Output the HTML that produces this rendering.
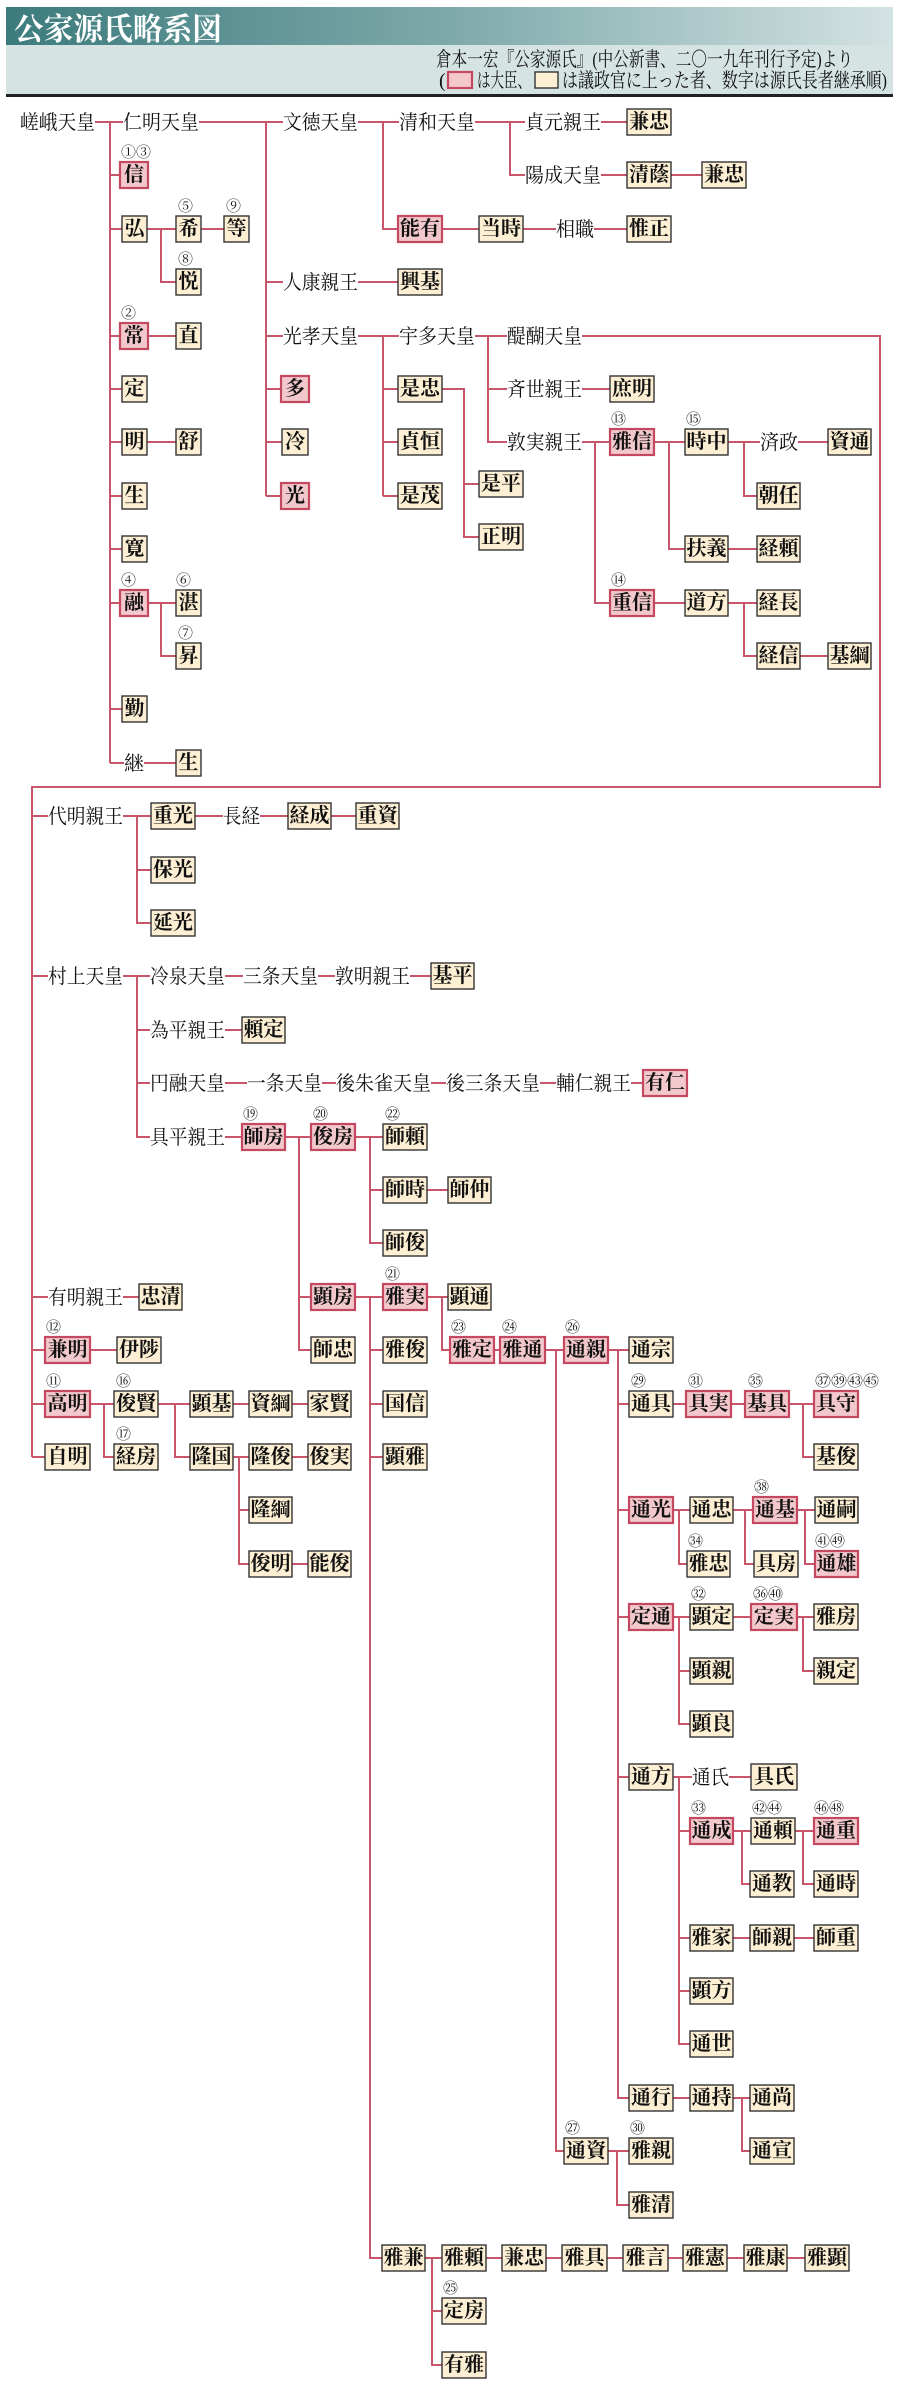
<!DOCTYPE html>
<html><head><meta charset="utf-8"><style>
html,body{margin:0;padding:0;background:#fff;}
svg{display:block;}
.t{font-family:"Liberation Serif","Noto Serif CJK SC",serif;font-size:20px;fill:#111;}
.bt{font-family:"Liberation Serif","Noto Serif CJK SC",serif;font-size:20px;font-weight:bold;fill:#111;text-anchor:middle;dominant-baseline:central;}
.n{font-family:"Liberation Serif","Noto Serif CJK SC",serif;font-size:15px;fill:#111;dominant-baseline:central;}
.b{fill:#fcefd3;stroke:#333;stroke-width:1.4;}
.p{fill:#f2c8cc;stroke:#c4485f;stroke-width:2.2;}
</style></head><body>
<svg width="900" height="2385" viewBox="0 0 900 2385" xmlns="http://www.w3.org/2000/svg">
<defs><linearGradient id="g" x1="0" x2="1" y1="0" y2="0"><stop offset="0" stop-color="#3c7b7d"/><stop offset="0.5" stop-color="#7ea9aa"/><stop offset="1" stop-color="#d3e2e2"/></linearGradient></defs>
<rect x="6" y="7" width="887" height="88" fill="#d6e3e3"/>
<rect x="6" y="7" width="887" height="38" fill="url(#g)"/>
<rect x="6" y="94" width="887" height="3" fill="#222"/>
<text x="14" y="40" font-family="Liberation Serif,Noto Serif CJK SC,serif" font-size="31" font-weight="bold" fill="#fff" textLength="208" lengthAdjust="spacingAndGlyphs">公家源氏略系図</text>
<text x="436" y="66" class="t" font-size="17" textLength="417" lengthAdjust="spacingAndGlyphs">倉本一宏『公家源氏』(中公新書、二〇一九年刊行予定)より</text>
<text x="439" y="87" class="t" font-size="17">(</text>
<rect x="448" y="72" width="24" height="16" class="p"/>
<text x="477" y="87" class="t" font-size="17" textLength="54" lengthAdjust="spacingAndGlyphs">は大臣、</text>
<rect x="535" y="72" width="23" height="16" class="b"/>
<text x="562" y="87" class="t" font-size="17" textLength="325" lengthAdjust="spacingAndGlyphs">は議政官に上った者、数字は源氏長者継承順)</text>

<path fill="none" stroke="#c9556b" stroke-width="2" d="
M95 122H123 M110 122V763 M110 175H120 M110 229H122 M110 336H120 M110 389H122 M110 442H122 M110 496H122 M110 549H122 M110 603H120 M110 709H122 M110 763H124
M147 229H176 M161 229V282H176 M201 229H224 M149 336H176 M147 442H176 M149 603H176 M161 603V656H176 M144 763H176
M199 122H283 M266 122V496 M266 282H283 M266 336H283 M266 389H281 M266 442H282 M266 496H281
M358 122H399 M383 122V229H398 M475 122H525 M510 122V175H525 M601 122H627 M601 175H627 M671 175H702
M442 229H479 M523 229H556 M594 229H627 M358 282H398
M358 336H399 M383 336V496 M383 389H398 M383 442H398 M383 496H398
M442 389H464V537H479 M464 484H479
M475 336H507 M488 336V442H507 M488 389H507
M582 336H880V787H32V1457
M582 389H610 M582 442H610 M595 442V603H610
M654 442H685 M669 442V549H685 M728 442H760 M744 442V496H757 M798 442H828 M728 549H757
M654 603H685 M728 603H757 M744 603V656H757 M800 656H828
M32 816H48 M32 976H48 M32 1297H48 M32 1350H45 M32 1404H45 M32 1457H45
M123 816H151 M137 816V923H151 M137 870H151 M195 816H223 M260 816H288 M331 816H356
M123 976H150 M137 976V1137H150 M137 1030H150 M137 1083H150
M225 976H243 M318 976H335 M410 976H431 M225 1030H242
M225 1083H247 M322 1083H336 M431 1083H446 M540 1083H556 M631 1083H643
M225 1137H242 M285 1137H311 M299 1137V1350H311 M299 1297H311
M355 1137H383 M370 1137V1243H383 M370 1190H383 M427 1190H448
M123 1297H139 M355 1297H383 M370 1297V2258H382 M370 1350H383 M370 1404H383 M370 1457H383
M427 1297H448 M442 1297V1350H450 M494 1350H500 M545 1350H564 M556 1350V2151H564
M608 1350H629 M618 1350V2098H629 M618 1404H629 M618 1510H629 M618 1617H629 M618 1777H629
M90 1350H117 M90 1404H114 M104 1404V1457H114 M158 1404H190 M175 1404V1457H190
M233 1404H249 M292 1404H308 M233 1457H249 M239 1457V1564H249 M239 1510H249 M292 1457H308 M292 1564H308
M673 1404H686 M731 1404H745 M789 1404H814 M803 1404V1457H814
M673 1510H690 M679 1510V1564H687 M733 1510H753 M745 1510V1564H754 M797 1510H815 M805 1510V1564H815
M673 1617H690 M679 1617V1724H690 M679 1671H690 M733 1617H751 M797 1617H814 M803 1617V1671H814
M673 1777H692 M679 1777V2044H690 M679 1831H690 M679 1938H690 M679 1991H690 M729 1777H751
M733 1831H751 M742 1831V1884H750 M795 1831H814 M803 1831V1884H814
M733 1938H750 M794 1938H814
M673 2098H690 M733 2098H750 M742 2098V2151H750
M608 2151H629 M617 2151V2205H629
M425 2258H442 M432 2258V2365H442 M432 2311H442
M486 2258H502 M546 2258H562 M607 2258H623 M668 2258H683 M727 2258H744 M787 2258H805
"/>

<g class="t" >
<text x="20" y="129" textLength="75" lengthAdjust="spacingAndGlyphs">嵯峨天皇</text>
<text x="123" y="129" textLength="76" lengthAdjust="spacingAndGlyphs">仁明天皇</text>
<text x="283" y="129" textLength="75" lengthAdjust="spacingAndGlyphs">文徳天皇</text>
<text x="399" y="129" textLength="76" lengthAdjust="spacingAndGlyphs">清和天皇</text>
<text x="525" y="129" textLength="76" lengthAdjust="spacingAndGlyphs">貞元親王</text>
<text x="525" y="182" textLength="76" lengthAdjust="spacingAndGlyphs">陽成天皇</text>
<text x="556" y="236" textLength="38" lengthAdjust="spacingAndGlyphs">相職</text>
<text x="283" y="289" textLength="75" lengthAdjust="spacingAndGlyphs">人康親王</text>
<text x="283" y="343" textLength="75" lengthAdjust="spacingAndGlyphs">光孝天皇</text>
<text x="399" y="343" textLength="76" lengthAdjust="spacingAndGlyphs">宇多天皇</text>
<text x="507" y="343" textLength="75" lengthAdjust="spacingAndGlyphs">醍醐天皇</text>
<text x="507" y="396" textLength="75" lengthAdjust="spacingAndGlyphs">斉世親王</text>
<text x="507" y="449" textLength="75" lengthAdjust="spacingAndGlyphs">敦実親王</text>
<text x="760" y="449" textLength="38" lengthAdjust="spacingAndGlyphs">済政</text>
<text x="124" y="770" textLength="20" lengthAdjust="spacingAndGlyphs">継</text>
<text x="48" y="823" textLength="75" lengthAdjust="spacingAndGlyphs">代明親王</text>
<text x="223" y="823" textLength="37" lengthAdjust="spacingAndGlyphs">長経</text>
<text x="48" y="983" textLength="75" lengthAdjust="spacingAndGlyphs">村上天皇</text>
<text x="150" y="983" textLength="75" lengthAdjust="spacingAndGlyphs">冷泉天皇</text>
<text x="243" y="983" textLength="75" lengthAdjust="spacingAndGlyphs">三条天皇</text>
<text x="335" y="983" textLength="75" lengthAdjust="spacingAndGlyphs">敦明親王</text>
<text x="150" y="1037" textLength="75" lengthAdjust="spacingAndGlyphs">為平親王</text>
<text x="150" y="1090" textLength="75" lengthAdjust="spacingAndGlyphs">円融天皇</text>
<text x="247" y="1090" textLength="75" lengthAdjust="spacingAndGlyphs">一条天皇</text>
<text x="336" y="1090" textLength="95" lengthAdjust="spacingAndGlyphs">後朱雀天皇</text>
<text x="446" y="1090" textLength="94" lengthAdjust="spacingAndGlyphs">後三条天皇</text>
<text x="556" y="1090" textLength="75" lengthAdjust="spacingAndGlyphs">輔仁親王</text>
<text x="150" y="1144" textLength="75" lengthAdjust="spacingAndGlyphs">具平親王</text>
<text x="48" y="1304" textLength="75" lengthAdjust="spacingAndGlyphs">有明親王</text>
<text x="692" y="1784" textLength="37" lengthAdjust="spacingAndGlyphs">通氏</text>
</g>

<g>
<rect class="b" x="627" y="109" width="44" height="26"/><text class="bt" x="649" y="122">兼忠</text>
<rect class="p" x="120" y="162" width="28" height="26"/><text class="bt" x="134" y="175">信</text>
<rect class="b" x="627" y="162" width="44" height="26"/><text class="bt" x="649" y="175">清蔭</text>
<rect class="b" x="702" y="162" width="44" height="26"/><text class="bt" x="724" y="175">兼忠</text>
<rect class="b" x="122" y="216" width="25" height="26"/><text class="bt" x="134.5" y="229">弘</text>
<rect class="b" x="176" y="216" width="25" height="26"/><text class="bt" x="188.5" y="229">希</text>
<rect class="b" x="224" y="216" width="25" height="26"/><text class="bt" x="236.5" y="229">等</text>
<rect class="p" x="398" y="216" width="44" height="26"/><text class="bt" x="420" y="229">能有</text>
<rect class="b" x="479" y="216" width="44" height="26"/><text class="bt" x="501" y="229">当時</text>
<rect class="b" x="627" y="216" width="44" height="26"/><text class="bt" x="649" y="229">惟正</text>
<rect class="b" x="176" y="269" width="25" height="26"/><text class="bt" x="188.5" y="282">悦</text>
<rect class="b" x="398" y="269" width="44" height="26"/><text class="bt" x="420" y="282">興基</text>
<rect class="p" x="120" y="323" width="28" height="26"/><text class="bt" x="134" y="336">常</text>
<rect class="b" x="176" y="323" width="25" height="26"/><text class="bt" x="188.5" y="336">直</text>
<rect class="b" x="122" y="376" width="25" height="26"/><text class="bt" x="134.5" y="389">定</text>
<rect class="p" x="281" y="376" width="28" height="26"/><text class="bt" x="295" y="389">多</text>
<rect class="b" x="398" y="376" width="44" height="26"/><text class="bt" x="420" y="389">是忠</text>
<rect class="b" x="610" y="376" width="44" height="26"/><text class="bt" x="632" y="389">庶明</text>
<rect class="b" x="122" y="429" width="25" height="26"/><text class="bt" x="134.5" y="442">明</text>
<rect class="b" x="176" y="429" width="25" height="26"/><text class="bt" x="188.5" y="442">舒</text>
<rect class="b" x="282" y="429" width="26" height="26"/><text class="bt" x="295" y="442">冷</text>
<rect class="b" x="398" y="429" width="44" height="26"/><text class="bt" x="420" y="442">貞恒</text>
<rect class="p" x="610" y="429" width="44" height="26"/><text class="bt" x="632" y="442">雅信</text>
<rect class="b" x="685" y="429" width="43" height="26"/><text class="bt" x="706.5" y="442">時中</text>
<rect class="b" x="828" y="429" width="43" height="26"/><text class="bt" x="849.5" y="442">資通</text>
<rect class="b" x="479" y="471" width="44" height="26"/><text class="bt" x="501" y="484">是平</text>
<rect class="b" x="122" y="483" width="25" height="26"/><text class="bt" x="134.5" y="496">生</text>
<rect class="p" x="281" y="483" width="28" height="26"/><text class="bt" x="295" y="496">光</text>
<rect class="b" x="398" y="483" width="44" height="26"/><text class="bt" x="420" y="496">是茂</text>
<rect class="b" x="757" y="483" width="43" height="26"/><text class="bt" x="778.5" y="496">朝任</text>
<rect class="b" x="479" y="524" width="44" height="26"/><text class="bt" x="501" y="537">正明</text>
<rect class="b" x="122" y="536" width="25" height="26"/><text class="bt" x="134.5" y="549">寛</text>
<rect class="b" x="685" y="536" width="43" height="26"/><text class="bt" x="706.5" y="549">扶義</text>
<rect class="b" x="757" y="536" width="43" height="26"/><text class="bt" x="778.5" y="549">経頼</text>
<rect class="p" x="120" y="590" width="28" height="26"/><text class="bt" x="134" y="603">融</text>
<rect class="b" x="176" y="590" width="25" height="26"/><text class="bt" x="188.5" y="603">湛</text>
<rect class="p" x="610" y="590" width="44" height="26"/><text class="bt" x="632" y="603">重信</text>
<rect class="b" x="685" y="590" width="43" height="26"/><text class="bt" x="706.5" y="603">道方</text>
<rect class="b" x="757" y="590" width="43" height="26"/><text class="bt" x="778.5" y="603">経長</text>
<rect class="b" x="176" y="643" width="25" height="26"/><text class="bt" x="188.5" y="656">昇</text>
<rect class="b" x="757" y="643" width="43" height="26"/><text class="bt" x="778.5" y="656">経信</text>
<rect class="b" x="828" y="643" width="43" height="26"/><text class="bt" x="849.5" y="656">基綱</text>
<rect class="b" x="122" y="696" width="25" height="26"/><text class="bt" x="134.5" y="709">勤</text>
<rect class="b" x="176" y="750" width="25" height="26"/><text class="bt" x="188.5" y="763">生</text>

<rect class="b" x="151" y="803" width="44" height="26"/><text class="bt" x="173" y="816">重光</text>
<rect class="b" x="288" y="803" width="43" height="26"/><text class="bt" x="309.5" y="816">経成</text>
<rect class="b" x="356" y="803" width="43" height="26"/><text class="bt" x="377.5" y="816">重資</text>
<rect class="b" x="151" y="857" width="44" height="26"/><text class="bt" x="173" y="870">保光</text>
<rect class="b" x="151" y="910" width="44" height="26"/><text class="bt" x="173" y="923">延光</text>
<rect class="b" x="431" y="963" width="43" height="26"/><text class="bt" x="452.5" y="976">基平</text>
<rect class="b" x="242" y="1017" width="43" height="26"/><text class="bt" x="263.5" y="1030">頼定</text>
<rect class="p" x="643" y="1070" width="44" height="26"/><text class="bt" x="665" y="1083">有仁</text>
<rect class="p" x="242" y="1124" width="43" height="26"/><text class="bt" x="263.5" y="1137">師房</text>
<rect class="p" x="311" y="1124" width="44" height="26"/><text class="bt" x="333" y="1137">俊房</text>
<rect class="b" x="383" y="1124" width="44" height="26"/><text class="bt" x="405" y="1137">師頼</text>
<rect class="b" x="383" y="1177" width="44" height="26"/><text class="bt" x="405" y="1190">師時</text>
<rect class="b" x="448" y="1177" width="43" height="26"/><text class="bt" x="469.5" y="1190">師仲</text>
<rect class="b" x="383" y="1230" width="44" height="26"/><text class="bt" x="405" y="1243">師俊</text>
<rect class="b" x="139" y="1284" width="43" height="26"/><text class="bt" x="160.5" y="1297">忠清</text>
<rect class="p" x="311" y="1284" width="44" height="26"/><text class="bt" x="333" y="1297">顕房</text>
<rect class="p" x="383" y="1284" width="44" height="26"/><text class="bt" x="405" y="1297">雅実</text>
<rect class="b" x="448" y="1284" width="43" height="26"/><text class="bt" x="469.5" y="1297">顕通</text>

<rect class="p" x="45" y="1337" width="45" height="26"/><text class="bt" x="67.5" y="1350">兼明</text>
<rect class="b" x="117" y="1337" width="44" height="26"/><text class="bt" x="139" y="1350">伊陟</text>
<rect class="b" x="311" y="1337" width="44" height="26"/><text class="bt" x="333" y="1350">師忠</text>
<rect class="b" x="383" y="1337" width="44" height="26"/><text class="bt" x="405" y="1350">雅俊</text>
<rect class="p" x="450" y="1337" width="44" height="26"/><text class="bt" x="472" y="1350">雅定</text>
<rect class="p" x="500" y="1337" width="45" height="26"/><text class="bt" x="522.5" y="1350">雅通</text>
<rect class="p" x="564" y="1337" width="44" height="26"/><text class="bt" x="586" y="1350">通親</text>
<rect class="b" x="629" y="1337" width="44" height="26"/><text class="bt" x="651" y="1350">通宗</text>

<rect class="p" x="45" y="1391" width="45" height="26"/><text class="bt" x="67.5" y="1404">高明</text>
<rect class="b" x="114" y="1391" width="44" height="26"/><text class="bt" x="136" y="1404">俊賢</text>
<rect class="b" x="190" y="1391" width="43" height="26"/><text class="bt" x="211.5" y="1404">顕基</text>
<rect class="b" x="249" y="1391" width="43" height="26"/><text class="bt" x="270.5" y="1404">資綱</text>
<rect class="b" x="308" y="1391" width="43" height="26"/><text class="bt" x="329.5" y="1404">家賢</text>
<rect class="b" x="383" y="1391" width="44" height="26"/><text class="bt" x="405" y="1404">国信</text>
<rect class="b" x="629" y="1391" width="44" height="26"/><text class="bt" x="651" y="1404">通具</text>
<rect class="p" x="686" y="1391" width="45" height="26"/><text class="bt" x="708.5" y="1404">具実</text>
<rect class="p" x="745" y="1391" width="44" height="26"/><text class="bt" x="767" y="1404">基具</text>
<rect class="p" x="814" y="1391" width="44" height="26"/><text class="bt" x="836" y="1404">具守</text>

<rect class="b" x="45" y="1444" width="45" height="26"/><text class="bt" x="67.5" y="1457">自明</text>
<rect class="b" x="114" y="1444" width="44" height="26"/><text class="bt" x="136" y="1457">経房</text>
<rect class="b" x="190" y="1444" width="43" height="26"/><text class="bt" x="211.5" y="1457">隆国</text>
<rect class="b" x="249" y="1444" width="43" height="26"/><text class="bt" x="270.5" y="1457">隆俊</text>
<rect class="b" x="308" y="1444" width="43" height="26"/><text class="bt" x="329.5" y="1457">俊実</text>
<rect class="b" x="383" y="1444" width="44" height="26"/><text class="bt" x="405" y="1457">顕雅</text>
<rect class="b" x="814" y="1444" width="44" height="26"/><text class="bt" x="836" y="1457">基俊</text>

<rect class="b" x="249" y="1497" width="43" height="26"/><text class="bt" x="270.5" y="1510">隆綱</text>
<rect class="p" x="629" y="1497" width="44" height="26"/><text class="bt" x="651" y="1510">通光</text>
<rect class="b" x="690" y="1497" width="43" height="26"/><text class="bt" x="711.5" y="1510">通忠</text>
<rect class="p" x="753" y="1497" width="44" height="26"/><text class="bt" x="775" y="1510">通基</text>
<rect class="b" x="815" y="1497" width="43" height="26"/><text class="bt" x="836.5" y="1510">通嗣</text>

<rect class="b" x="249" y="1551" width="43" height="26"/><text class="bt" x="270.5" y="1564">俊明</text>
<rect class="b" x="308" y="1551" width="43" height="26"/><text class="bt" x="329.5" y="1564">能俊</text>
<rect class="b" x="687" y="1551" width="43" height="26"/><text class="bt" x="708.5" y="1564">雅忠</text>
<rect class="b" x="754" y="1551" width="44" height="26"/><text class="bt" x="776" y="1564">具房</text>
<rect class="p" x="815" y="1551" width="43" height="26"/><text class="bt" x="836.5" y="1564">通雄</text>

<rect class="p" x="629" y="1604" width="44" height="26"/><text class="bt" x="651" y="1617">定通</text>
<rect class="b" x="690" y="1604" width="43" height="26"/><text class="bt" x="711.5" y="1617">顕定</text>
<rect class="p" x="751" y="1604" width="46" height="26"/><text class="bt" x="774" y="1617">定実</text>
<rect class="b" x="814" y="1604" width="44" height="26"/><text class="bt" x="836" y="1617">雅房</text>
<rect class="b" x="690" y="1658" width="43" height="26"/><text class="bt" x="711.5" y="1671">顕親</text>
<rect class="b" x="814" y="1658" width="44" height="26"/><text class="bt" x="836" y="1671">親定</text>
<rect class="b" x="690" y="1711" width="43" height="26"/><text class="bt" x="711.5" y="1724">顕良</text>
<rect class="b" x="629" y="1764" width="44" height="26"/><text class="bt" x="651" y="1777">通方</text>
<rect class="b" x="751" y="1764" width="46" height="26"/><text class="bt" x="774" y="1777">具氏</text>
<rect class="p" x="690" y="1818" width="43" height="26"/><text class="bt" x="711.5" y="1831">通成</text>
<rect class="b" x="751" y="1818" width="44" height="26"/><text class="bt" x="773" y="1831">通頼</text>
<rect class="p" x="814" y="1818" width="44" height="26"/><text class="bt" x="836" y="1831">通重</text>
<rect class="b" x="750" y="1871" width="44" height="26"/><text class="bt" x="772" y="1884">通教</text>
<rect class="b" x="814" y="1871" width="44" height="26"/><text class="bt" x="836" y="1884">通時</text>
<rect class="b" x="690" y="1925" width="43" height="26"/><text class="bt" x="711.5" y="1938">雅家</text>
<rect class="b" x="750" y="1925" width="44" height="26"/><text class="bt" x="772" y="1938">師親</text>
<rect class="b" x="814" y="1925" width="44" height="26"/><text class="bt" x="836" y="1938">師重</text>
<rect class="b" x="690" y="1978" width="43" height="26"/><text class="bt" x="711.5" y="1991">顕方</text>
<rect class="b" x="690" y="2031" width="43" height="26"/><text class="bt" x="711.5" y="2044">通世</text>
<rect class="b" x="629" y="2085" width="44" height="26"/><text class="bt" x="651" y="2098">通行</text>
<rect class="b" x="690" y="2085" width="43" height="26"/><text class="bt" x="711.5" y="2098">通持</text>
<rect class="b" x="750" y="2085" width="44" height="26"/><text class="bt" x="772" y="2098">通尚</text>
<rect class="b" x="564" y="2138" width="44" height="26"/><text class="bt" x="586" y="2151">通資</text>
<rect class="b" x="629" y="2138" width="44" height="26"/><text class="bt" x="651" y="2151">雅親</text>
<rect class="b" x="750" y="2138" width="44" height="26"/><text class="bt" x="772" y="2151">通宣</text>
<rect class="b" x="629" y="2192" width="44" height="26"/><text class="bt" x="651" y="2205">雅清</text>
<rect class="b" x="382" y="2245" width="43" height="26"/><text class="bt" x="403.5" y="2258">雅兼</text>
<rect class="b" x="442" y="2245" width="44" height="26"/><text class="bt" x="464" y="2258">雅頼</text>
<rect class="b" x="502" y="2245" width="44" height="26"/><text class="bt" x="524" y="2258">兼忠</text>
<rect class="b" x="562" y="2245" width="45" height="26"/><text class="bt" x="584.5" y="2258">雅具</text>
<rect class="b" x="623" y="2245" width="45" height="26"/><text class="bt" x="645.5" y="2258">雅言</text>
<rect class="b" x="683" y="2245" width="44" height="26"/><text class="bt" x="705" y="2258">雅憲</text>
<rect class="b" x="744" y="2245" width="43" height="26"/><text class="bt" x="765.5" y="2258">雅康</text>
<rect class="b" x="805" y="2245" width="44" height="26"/><text class="bt" x="827" y="2258">雅顕</text>
<rect class="b" x="442" y="2298" width="44" height="26"/><text class="bt" x="464" y="2311">定房</text>
<rect class="b" x="442" y="2352" width="44" height="26"/><text class="bt" x="464" y="2365">有雅</text>
</g>

<g class="n">
<text x="121" y="153">①③</text>
<text x="178" y="207">⑤</text>
<text x="226" y="207">⑨</text>
<text x="178" y="260">⑧</text>
<text x="121" y="314">②</text>
<text x="611" y="420">⑬</text>
<text x="686" y="420">⑮</text>
<text x="121" y="581">④</text>
<text x="176" y="581">⑥</text>
<text x="178" y="634">⑦</text>
<text x="611" y="581">⑭</text>
<text x="243" y="1115">⑲</text>
<text x="313" y="1115">⑳</text>
<text x="385" y="1115">㉒</text>
<text x="385" y="1275">㉑</text>
<text x="46" y="1328">⑫</text>
<text x="451" y="1328">㉓</text>
<text x="502" y="1328">㉔</text>
<text x="565" y="1328">㉖</text>
<text x="46" y="1382">⑪</text>
<text x="116" y="1382">⑯</text>
<text x="631" y="1382">㉙</text>
<text x="688" y="1382">㉛</text>
<text x="748" y="1382">㉟</text>
<text x="815" y="1382" textLength="64" lengthAdjust="spacingAndGlyphs">㊲㊴㊸㊺</text>
<text x="116" y="1435">⑰</text>
<text x="754" y="1488">㊳</text>
<text x="688" y="1542">㉞</text>
<text x="815" y="1542">㊶㊾</text>
<text x="691" y="1595">㉜</text>
<text x="753" y="1595">㊱㊵</text>
<text x="691" y="1809">㉝</text>
<text x="752" y="1809">㊷㊹</text>
<text x="814" y="1809">㊻㊽</text>
<text x="565" y="2129">㉗</text>
<text x="630" y="2129">㉚</text>
<text x="443" y="2289">㉕</text>
</g>
</svg>
</body></html>
